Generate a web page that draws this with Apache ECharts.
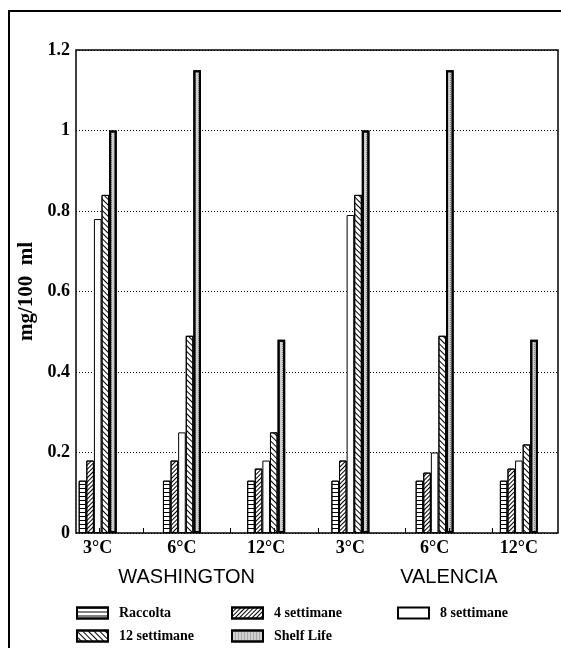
<!DOCTYPE html>
<html>
<head>
<meta charset="utf-8">
<script src="https://cdn.jsdelivr.net/npm/echarts@6/dist/echarts.min.js"></script>
<style>
  html, body { margin: 0; padding: 0; background: #fff; }
  #chart { width: 561px; height: 648px; }
</style>
</head>
<body>
<div id="chart"></div>
<script>
// Storage temperature groups, two growing areas
const categories = ['3°C', '6°C', '12°C', '3°C', '6°C', '12°C'];
const regions = ['WASHINGTON', 'VALENCIA'];

// Content in mg/100 ml at each sampling time
const seriesNames = ['Raccolta', '4 settimane', '8 settimane', '12 settimane', 'Shelf Life'];
const raccolta   = [0.13, 0.13, 0.13, 0.13, 0.13, 0.13];
const settimane4 = [0.18, 0.18, 0.16, 0.18, 0.15, 0.16];
const settimane8 = [0.78, 0.25, 0.18, 0.79, 0.20, 0.18];
const settimane12 = [0.84, 0.49, 0.25, 0.84, 0.49, 0.22];
const shelfLife  = [1.00, 1.15, 0.48, 1.00, 1.15, 0.48];

// Value axis
const yMin = 0, yMax = 1.2, yStep = 0.2;

// Layout constants (pixels)
const W = 561, H = 648;
const plotLeft = 76, plotRight = 558, plotTop = 50, plotBottom = 533;
const bandStart = 55.6, bandWidth = 87.4;
const bandEnd = bandStart + bandWidth * categories.length;

const serif = '"Liberation Serif", "DejaVu Serif", serif';
const sans = '"Liberation Sans", Arial, sans-serif';

const chart = echarts.init(document.getElementById('chart'), null, { renderer: 'canvas' });

const border = { borderColor: '#000', borderWidth: 1 };

function barSeries(name, data, itemStyle) {
  return {
    name: name,
    type: 'bar',
    xAxisIndex: 1,
    yAxisIndex: 1,
    data: data,
    barWidth: 7.6,
    barGap: '0%',
    itemStyle: itemStyle,
    emphasis: { disabled: true },
    silent: true
  };
}

// three legend columns, two rows
const legendColumns = [
  { names: [seriesNames[0], seriesNames[3]], left: 76 },
  { names: [seriesNames[1], seriesNames[4]], left: 231 },
  { names: [seriesNames[2]], left: 397 }
];

const option = {
  backgroundColor: '#fff',
  animation: false,
  grid: [
    // frame grid: box + dotted value lines
    { left: plotLeft, top: plotTop, width: plotRight - plotLeft, height: plotBottom - plotTop,
      show: true, borderColor: '#000', borderWidth: 1.5, backgroundColor: 'transparent' },
    // bar grid: one band per temperature group
    { left: bandStart, top: plotTop, width: bandEnd - bandStart, height: plotBottom - plotTop },
    // tick grid: marks at band centres and boundaries
    { left: bandStart + bandWidth / 2, top: plotTop,
      width: bandWidth * (categories.length - 1), height: plotBottom - plotTop }
  ],
  xAxis: [
    { gridIndex: 0, type: 'value', min: 0, max: 1, show: false },
    { gridIndex: 1, type: 'category', data: categories,
      axisLine: { show: false }, axisTick: { show: false },
      axisLabel: { color: '#000', fontFamily: serif, fontWeight: 'bold', fontSize: 18, margin: 6 } },
    { gridIndex: 2, type: 'value', min: 0, max: 10, interval: 1, z: 10,
      axisLine: { show: false },
      axisTick: { show: true, inside: true, length: 5, lineStyle: { color: '#000', width: 1 } },
      axisLabel: { show: false }, splitLine: { show: false } }
  ],
  yAxis: [
    { gridIndex: 0, type: 'value', min: yMin, max: yMax, interval: yStep,
      name: 'mg/100  ml', nameLocation: 'middle', nameGap: 34, nameRotate: 90,
      nameTextStyle: { color: '#000', fontFamily: serif, fontWeight: 'bold', fontSize: 21 },
      axisLine: { show: false }, axisTick: { show: false },
      axisLabel: { color: '#000', fontFamily: serif, fontWeight: 'bold', fontSize: 18, margin: 6,
        formatter: function (v) { return String(Math.round(v * 10) / 10); } },
      splitLine: { show: true, lineStyle: { color: '#000', width: 1, type: [1, 2] } } },
    { gridIndex: 1, type: 'value', min: yMin, max: yMax, show: false },
    { gridIndex: 2, type: 'value', min: 0, max: 1, show: false }
  ],
  legend: legendColumns.map(function (c) {
    return {
      data: c.names, left: c.left, top: 606, height: 80, padding: 0,
      orient: 'vertical', icon: 'rect', itemWidth: 31, itemHeight: 11, itemGap: 9,
      selectedMode: false,
      textStyle: { color: '#000', fontFamily: serif, fontWeight: 'bold', fontSize: 14,
        padding: [0, 0, 0, 6] }
    };
  }),
  graphic: [
    { type: 'rect', shape: { x: 9, y: 11, width: W + 10, height: H + 10 },
      style: { fill: 'none', stroke: '#000', lineWidth: 2 }, silent: true },
    { type: 'text', x: bandStart + bandWidth * 1.5, y: 577,
      style: { text: regions[0], fill: '#000', font: '20px ' + sans, textAlign: 'center', textVerticalAlign: 'middle' } },
    { type: 'text', x: bandStart + bandWidth * 4.5, y: 577,
      style: { text: regions[1], fill: '#000', font: '20px ' + sans, textAlign: 'center', textVerticalAlign: 'middle' } }
  ],
  series: [
    barSeries(seriesNames[0], raccolta, Object.assign({ color: '#fff',
      decal: { symbol: 'rect', symbolSize: 1, color: '#000', dashArrayX: [1, 0], dashArrayY: [1, 2.4] } }, border)),
    barSeries(seriesNames[1], settimane4, Object.assign({ color: '#fff',
      decal: { symbol: 'rect', symbolSize: 1, color: '#000', dashArrayX: [1, 0], dashArrayY: [1, 2], rotation: -Math.PI / 4 } }, border)),
    barSeries(seriesNames[2], settimane8, Object.assign({ color: '#fff' }, border)),
    barSeries(seriesNames[3], settimane12, Object.assign({ color: '#fff',
      decal: { symbol: 'rect', symbolSize: 1, color: '#000', dashArrayX: [1, 0], dashArrayY: [1, 2.4], rotation: Math.PI / 4 } }, border)),
    barSeries(seriesNames[4], shelfLife, { color: '#cfcfcf', borderColor: '#000', borderWidth: 2,
      decal: { symbol: 'rect', symbolSize: 1, color: 'rgba(70,70,70,0.55)', dashArrayX: [1, 2], dashArrayY: [1, 1] } })
  ]
};

chart.setOption(option);
</script>
</body>
</html>
